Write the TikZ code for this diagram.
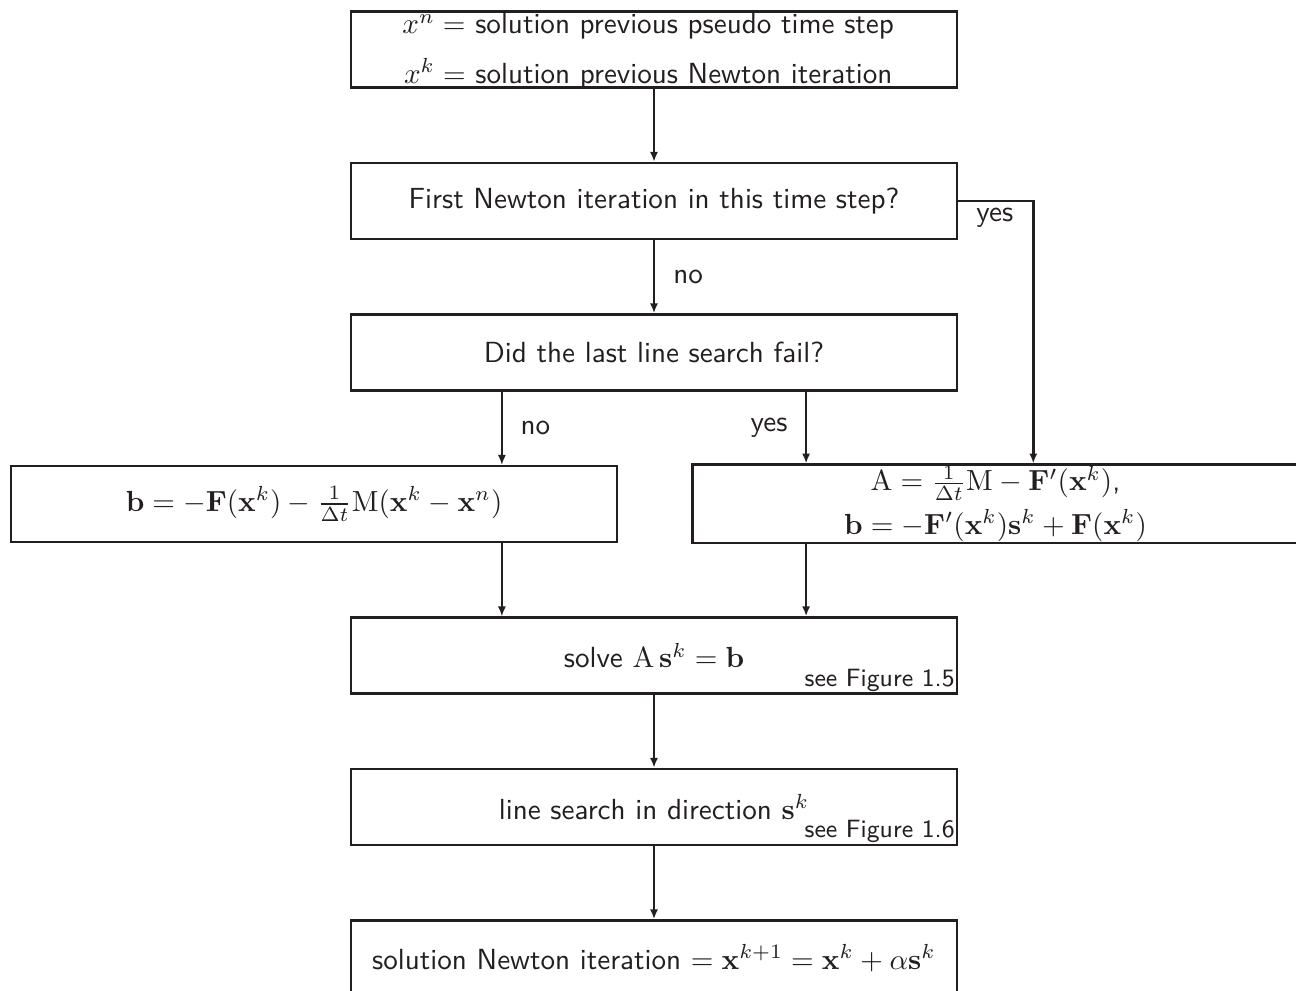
\documentclass[tikz,border=0pt]{standalone}
\usetikzlibrary{arrows.meta,positioning,calc}
\definecolor{Ink}{HTML}{231F20}
\tikzset{
  stepbox/.style={draw=Ink,line width=0.85pt,minimum width=208.2pt,minimum height=26.1pt,align=center,font=\sffamily,text=Ink},
  tallbox/.style={stepbox,inner ysep=0.5pt},
  seefig/.style={anchor=south east,font=\sffamily\fontsize{8.6}{10}\selectfont,text=Ink,inner sep=1pt},
  answer/.style={font=\sffamily,text=Ink,inner sep=0pt},
  line/.style={-{Latex[length=3.4pt,width=2.8pt]},draw=Ink,line width=0.85pt},
  thinline/.style={line,line width=0.5pt}
}

\begin{document}
\begin{tikzpicture}[x=0.3436pt,y=-0.3436pt,node distance=25.1pt]
  \useasboundingbox (0,0) rectangle (1296,991);
  \node[stepbox] (prev) at (654,49.5)
    {\smash{\kern-4pt\raisebox{-3.2pt}{\begin{tabular}{@{}c@{}}
      $x^n=$ solution previous pseudo time step\\[4.8pt]
      $x^k=$ solution previous Newton iteration
     \end{tabular}}}};
  \node[stepbox,below=of prev] (first) {First Newton iteration in this time step?};
  \node[stepbox,below=of first] (fail) {Did the last line search fail?};
  \node[stepbox,below=of fail,xshift=-116.8pt] (rhs)
    {$\mathbf{b}=-\mathbf{F}(\mathbf{x}^k)-\frac{1}{\Delta t}\mathrm{M}(\mathbf{x}^k-\mathbf{x}^n)$};
  \node[tallbox,right=of rhs] (jac)
    {$\mathrm{A}=\frac{1}{\Delta t}\mathrm{M}-\mathbf{F}'(\mathbf{x}^k)$,\\[3pt]
     $\mathbf{b}=-\mathbf{F}'(\mathbf{x}^k)\mathbf{s}^k+\mathbf{F}(\mathbf{x}^k)$};
  \node[stepbox,below=of rhs,xshift=116.8pt,label={[seefig]south east:see Figure 1.5}] (solve)
    {solve $\mathrm{A}\,\mathbf{s}^k=\mathbf{b}$};
  \node[stepbox,below=of solve,label={[seefig]south east:see Figure 1.6}] (search)
    {line search in direction $\mathbf{s}^k$};
  \node[stepbox,below=of search] (done)
    {solution Newton iteration $=\mathbf{x}^{k+1}=\mathbf{x}^k+\alpha\mathbf{s}^k$};

  \coordinate (turn) at ([xshift=25.8pt]first.east);
  \coordinate (nox) at ($(fail.south west)!0.25!(fail.south east)$);
  \coordinate (yesx) at ($(fail.south west)!0.75!(fail.south east)$);

  \draw[line] (prev) -- (first);
  \draw[line] (first) -- node[answer,right=6.2pt] {no} (fail);
  \draw[line] (first.east) -- (turn) -- node[answer,pos=0,below left=1.9pt and 6.5pt] {yes} (turn |- jac.north);
  \draw[thinline] (nox) -- node[answer,right=6.2pt] {no} (nox |- rhs.north);
  \draw[line] (yesx) -- node[answer,left=6pt] {yes} (yesx |- jac.north);
  \draw[thinline] (nox |- rhs.south) -- (nox |- solve.north);
  \draw[line] (yesx |- jac.south) -- (yesx |- solve.north);
  \draw[line] (solve) -- (search);
  \draw[line] (search) -- (done);
\end{tikzpicture}
\end{document}
